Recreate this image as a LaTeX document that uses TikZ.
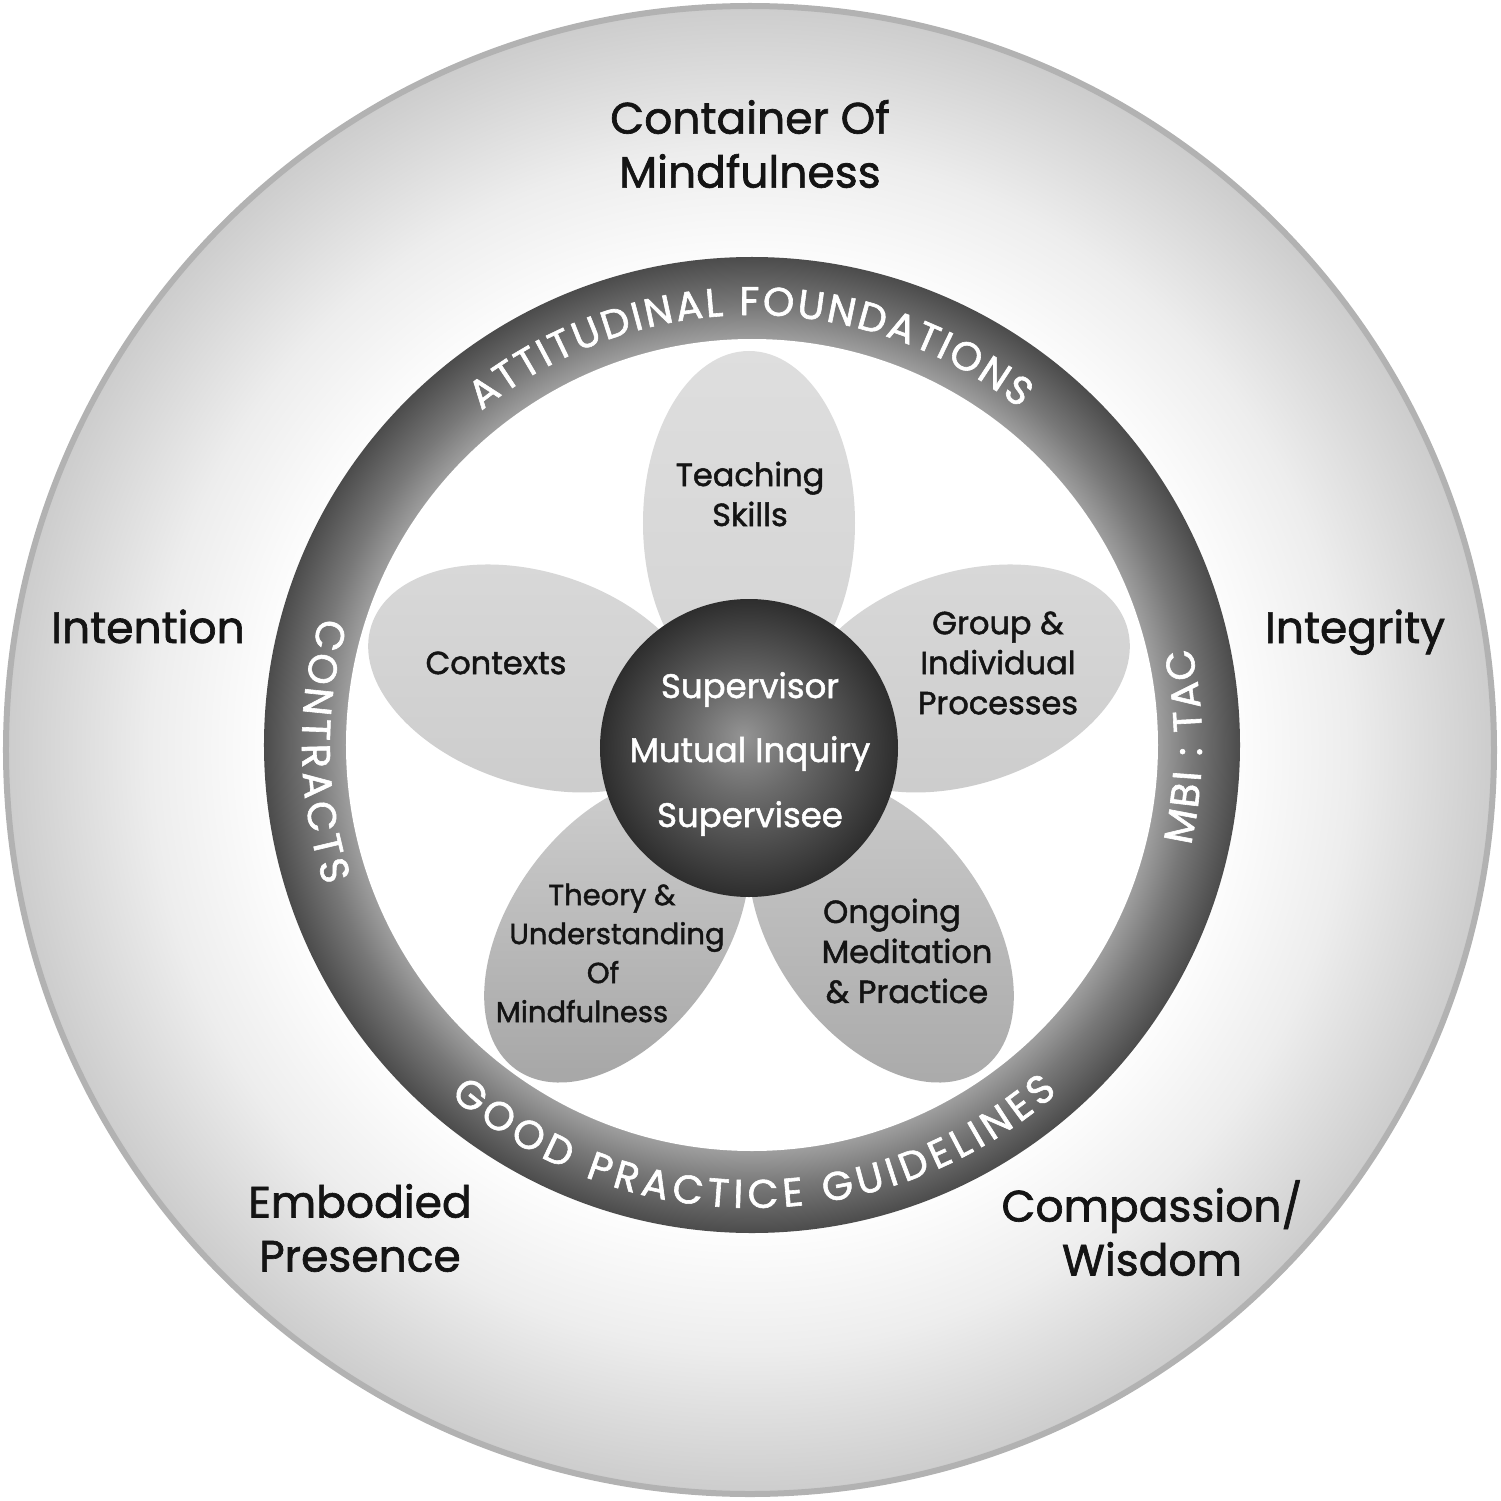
\documentclass[tikz,border=0pt]{standalone}
\usepackage{fontspec}
\setmainfont{Poppins}[FakeBold=1.5]
\usetikzlibrary{decorations.text}

\definecolor{bordergray}{gray}{0.70}
\definecolor{outeredge}{gray}{0.80}
\definecolor{outermid}{gray}{0.93}
\definecolor{ringin}{gray}{0.62}
\definecolor{ringmid}{gray}{0.47}
\definecolor{ringout}{gray}{0.29}
\definecolor{hubin}{gray}{0.58}
\definecolor{hubmid}{gray}{0.42}
\definecolor{hubout}{gray}{0.17}
\definecolor{labelink}{gray}{0.08}

\pgfdeclareradialshading{outershade}{\pgfpointorigin}{color(0pt)=(white); color(470pt)=(white); color(600pt)=(outermid); color(746pt)=(outeredge)}
\pgfdeclareradialshading{ringshade}{\pgfpointorigin}{color(0pt)=(ringin); color(406pt)=(ringin); color(440pt)=(ringmid); color(490pt)=(ringout)}
\pgfdeclareradialshading{hubshade}{\pgfqpoint{-6pt}{12pt}}{color(0pt)=(hubin); color(55pt)=(hubmid); color(152pt)=(hubout)}

\tikzset{
  outerlabel/.style={font=\fontsize{44}{54}\selectfont, text=labelink, align=center, inner sep=0pt},
  petallabel/.style={font=\fontsize{32}{40}\selectfont, text=labelink, align=center, inner sep=0pt},
  hublabel/.style={font=\fontsize{34}{40}\selectfont, text=white, anchor=base, inner sep=0pt},
  shadebox/.style={inner sep=0pt, outer sep=0pt},
  ringtext/.style={decorate, decoration={text along path, text align={fit to path}, text={|\fontsize{40}{40}\selectfont\color{white}|#1}}}
}

\begin{document}
\begin{tikzpicture}[x=1pt,y=1pt]
\useasboundingbox (-749,-752) rectangle (752,748);

% outer disc
\begin{scope}
  \clip (1,-2) circle (744);
  \node[shadebox] (outerfill) at (1,-2) {\pgfuseshading{outershade}};
\end{scope}
\draw[bordergray, line width=6] (1,-2) circle (744);

% ring
\begin{scope}
  \clip (3,3) circle (488);
  \node[shadebox] (ringfill) at (3,3) {\pgfuseshading{ringshade}};
\end{scope}
\fill[white] (3,3) circle (406);

% petals
\shade[top color=black!13, bottom color=black!17, rotate=0]   (0,225) ellipse [x radius=106, y radius=172];
\shade[top color=black!15, bottom color=black!20, rotate=72]  (0,225) ellipse [x radius=106, y radius=172];
\shade[top color=black!15, bottom color=black!20, rotate=288] (0,225) ellipse [x radius=106, y radius=172];
\shade[top color=black!20, bottom color=black!34, rotate=144] (0,225) ellipse [x radius=106, y radius=172];
\shade[top color=black!20, bottom color=black!34, rotate=216] (0,225) ellipse [x radius=106, y radius=172];

% hub
\begin{scope}
  \clip (0,0) circle (149);
  \node[shadebox] (hubfill) at (0,0) {\pgfuseshading{hubshade}};
\end{scope}

% hub labels
\node[hublabel] (supervisor) at (1,50) {Supervisor};
\node[hublabel] (mutual) at (1,-14) {Mutual Inquiry};
\node[hublabel] (supervisee) at (1,-79) {Supervisee};

% petal labels
\node[petallabel] (teaching) at (1,254) {Teaching\\Skills};
\node[petallabel] (contexts) at (-253,85) {Contexts};
\node[petallabel] (group) at (249,85) {Group \&\\Individual\\Processes};
\node[petallabel, font=\fontsize{29}{39}\selectfont] (theory) at (-146,-205) {\hspace*{18pt}Theory \&\\\hspace*{28pt}Understanding\\Of\hspace*{16pt}\\Mindfulness\hspace*{42pt}};
\node[petallabel] (ongoing) at (158,-203) {Ongoing\hspace*{30pt}\\Meditation\\\& Practice};

% outer labels
\node[outerlabel] (container) at (1,604) {Container Of\\Mindfulness};
\node[outerlabel, anchor=base] (intention) at (-601,105) {Intention};
\node[outerlabel, anchor=base] (integrity) at (606,105) {Integrity};
\node[outerlabel] (embodied) at (-389,-480) {Embodied\\Presence};
\node[outerlabel] (compassion) at (403,-480) {Compassion/\\Wisdom};

% ring texts
\path[ringtext={ATTITUDINAL FOUNDATIONS}] (3,3) ++(129:430) arc[start angle=129, end angle=51.5, radius=430];
\path[ringtext={GOOD PRACTICE GUIDELINES}] (3,3) ++(229.3:463) arc[start angle=229.3, end angle=311.3, radius=463];
\path[ringtext={CONTRACTS}] (3,3) ++(163.5:450) arc[start angle=163.5, end angle=198.2, radius=450];
\path[ringtext={MBI : TAC}] (3,3) ++(-12.9:450) arc[start angle=-12.9, end angle=12.5, radius=450];
\end{tikzpicture}
\end{document}
